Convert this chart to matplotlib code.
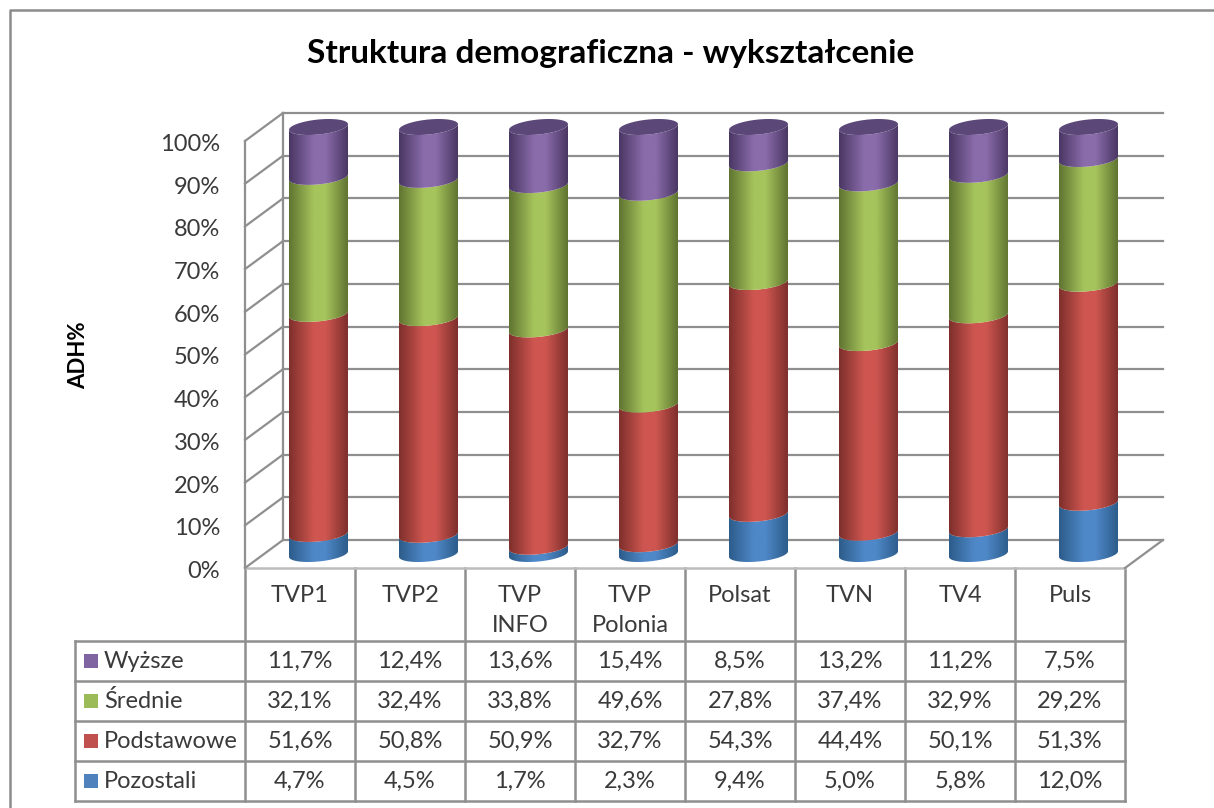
import numpy as np
import matplotlib
matplotlib.use("Agg")
import matplotlib.pyplot as plt
from matplotlib.colors import LinearSegmentedColormap
from matplotlib.patches import Polygon, Rectangle

plt.rcParams['font.family'] = ['Lato', 'DejaVu Sans']

W, H = 1214, 808

channels = ["TVP1", "TVP2", "TVP\nINFO", "TVP\nPolonia", "Polsat", "TVN", "TV4", "Puls"]
pozostali = [4.7, 4.5, 1.7, 2.3, 9.4, 5.0, 5.8, 12.0]
podstawowe = [51.6, 50.8, 50.9, 32.7, 54.3, 44.4, 50.1, 51.3]
srednie = [32.1, 32.4, 33.8, 49.6, 27.8, 37.4, 32.9, 29.2]
wyzsze = [11.7, 12.4, 13.6, 15.4, 8.5, 13.2, 11.2, 7.5]
y_ticks = [0, 10, 20, 30, 40, 50, 60, 70, 80, 90, 100]

# dark edge, light, legend key
colors = {
    "Pozostali": ("#2c5c8a", "#4f88c8", "#4f81bd"),
    "Podstawowe": ("#7e2f2c", "#cf5650", "#c0504d"),
    "Średnie": ("#5f7431", "#a6c45c", "#9bbb59"),
    "Wyższe": ("#4a3763", "#8a6cab", "#8064a2"),
}
GRID = "#8f8f8f"
TXT = "#3a3a3a"
FS = 17

fig = plt.figure(figsize=(W / 100, H / 100), dpi=100, facecolor="white")

# overlay in pixel coords, for the frame, table and legend keys
bg = fig.add_axes([0, 0, 1, 1])
bg.set_xlim(0, W)
bg.set_ylim(H, 0)
bg.axis("off")

# plot area: x in categories, y in percent
px_l, px_r, px_b, px_t = 245, 1125, 568, 141
ax = fig.add_axes([px_l / W, 1 - px_b / H, (px_r - px_l) / W, (px_b - px_t) / H])
ax.patch.set_alpha(0)
ax.axis("off")
px_x = (px_r - px_l) / len(channels)
px_y = (px_b - px_t) / 100
dx, dy = 38 / px_x, 28 / px_y

for v in y_ticks:
    ax.plot([0, dx], [v, v + dy], color=GRID, lw=1.6, clip_on=False)
    ax.plot([dx, len(channels) + dx], [v + dy, v + dy], color=GRID, lw=1.6, clip_on=False)
    ax.text(-25 / px_x, v - 0.8, f"{v}%", ha="right", va="center", fontsize=FS, color=TXT)
ax.plot([0, 0], [0, 100], color=GRID, lw=1.6, clip_on=False)
ax.plot([dx, dx], [0 + dy, 100 + dy], color=GRID, lw=1.6, clip_on=False)
ax.plot([len(channels), len(channels) + dx], [0, dy], color=GRID, lw=1.6, clip_on=False)

# cylinders
a = 29.5 / px_x
b = 7.5 / px_y
tilt = 2.8 / px_y
t_low = np.linspace(np.pi, 2 * np.pi, 40)
t_all = np.linspace(0, 2 * np.pi, 80)


def arc(cx, level, t):
    return cx + a * np.cos(t), level + tilt * np.cos(t) + b * np.sin(t)


series = [("Pozostali", pozostali), ("Podstawowe", podstawowe), ("Średnie", srednie), ("Wyższe", wyzsze)]
totals = np.sum([s[1] for s in series], axis=0)
for i in range(len(channels)):
    cx = i + 0.5 + 18.5 / px_x
    base = 14 / px_y
    scale = 100 / totals[i]
    bottom = base
    for name, vals in series:
        top = bottom + vals[i] * scale
        xl, yl = arc(cx, bottom, t_low)
        xu, yu = arc(cx, top, t_low)
        pts = np.vstack([np.column_stack([xl, yl]), np.column_stack([xu[::-1], yu[::-1]])])
        edge, light, _ = colors[name]
        cm = LinearSegmentedColormap.from_list(name, [(0, edge), (.42, light), (.62, light), (1, edge)])
        im = ax.imshow(np.linspace(0, 1, 128).reshape(1, -1), cmap=cm, aspect="auto",
                       extent=[cx - a, cx + a, bottom - b - tilt, top + tilt + b], zorder=3)
        poly = Polygon(pts, closed=True, transform=ax.transData, fc="none", ec="none", clip_on=False)
        ax.add_patch(poly)
        im.set_clip_box(fig.bbox)
        im.set_clip_path(poly)
        bottom = top
    xc, yc = arc(cx, bottom, t_all)
    ax.fill(xc, yc, color="#5c4878", zorder=4, lw=0, clip_on=False)

ax.set_xlim(0, len(channels))
ax.set_ylim(0, 100)

# frame, open on the right
bg.plot([10, 10, W], [H, 10, 10], color="#8c8c8c", lw=1.8)

# data table
col_x = [px_l + px_x * k for k in range(len(channels) + 1)]
row_y = [641, 681, 721, 761, 801]
tbl_l = 75
for x in col_x:
    bg.plot([x, x], [px_b, row_y[-1]], color=GRID, lw=1.8)
bg.plot([tbl_l, tbl_l], [row_y[0], row_y[-1]], color=GRID, lw=1.8)
bg.plot([px_l, px_r], [px_b, px_b], color="#bdbdbd", lw=1.8)
for y in row_y:
    bg.plot([tbl_l, px_r], [y, y], color=GRID, lw=1.8)

for k, ch in enumerate(channels):
    cx = (col_x[k] + col_x[k + 1]) / 2
    for j, line in enumerate(ch.split("\n")):
        bg.text(cx, 596 + j * 30, line, ha="center", va="center", fontsize=FS, color=TXT)

for r, (name, vals) in enumerate(series[::-1]):
    yc = (row_y[r] + row_y[r + 1]) / 2
    bg.add_patch(Rectangle((84, yc - 7), 14, 14, fc=colors[name][2], ec="none"))
    bg.text(104, yc, name, ha="left", va="center", fontsize=FS, color=TXT)
    for k, v in enumerate(vals):
        bg.text((col_x[k] + col_x[k + 1]) / 2, yc, f"{v:.1f}%".replace(".", ","),
                ha="center", va="center", fontsize=FS, color=TXT)

bg.text(611, 54, "Struktura demograficzna - wykształcenie", ha="center", va="center",
        fontsize=24, fontweight="bold", color="black")
bg.text(79, 355, "ADH%", ha="center", va="center", rotation=90, fontsize=16, fontweight="bold", color="black")

fig.savefig("out.png", dpi=100)
